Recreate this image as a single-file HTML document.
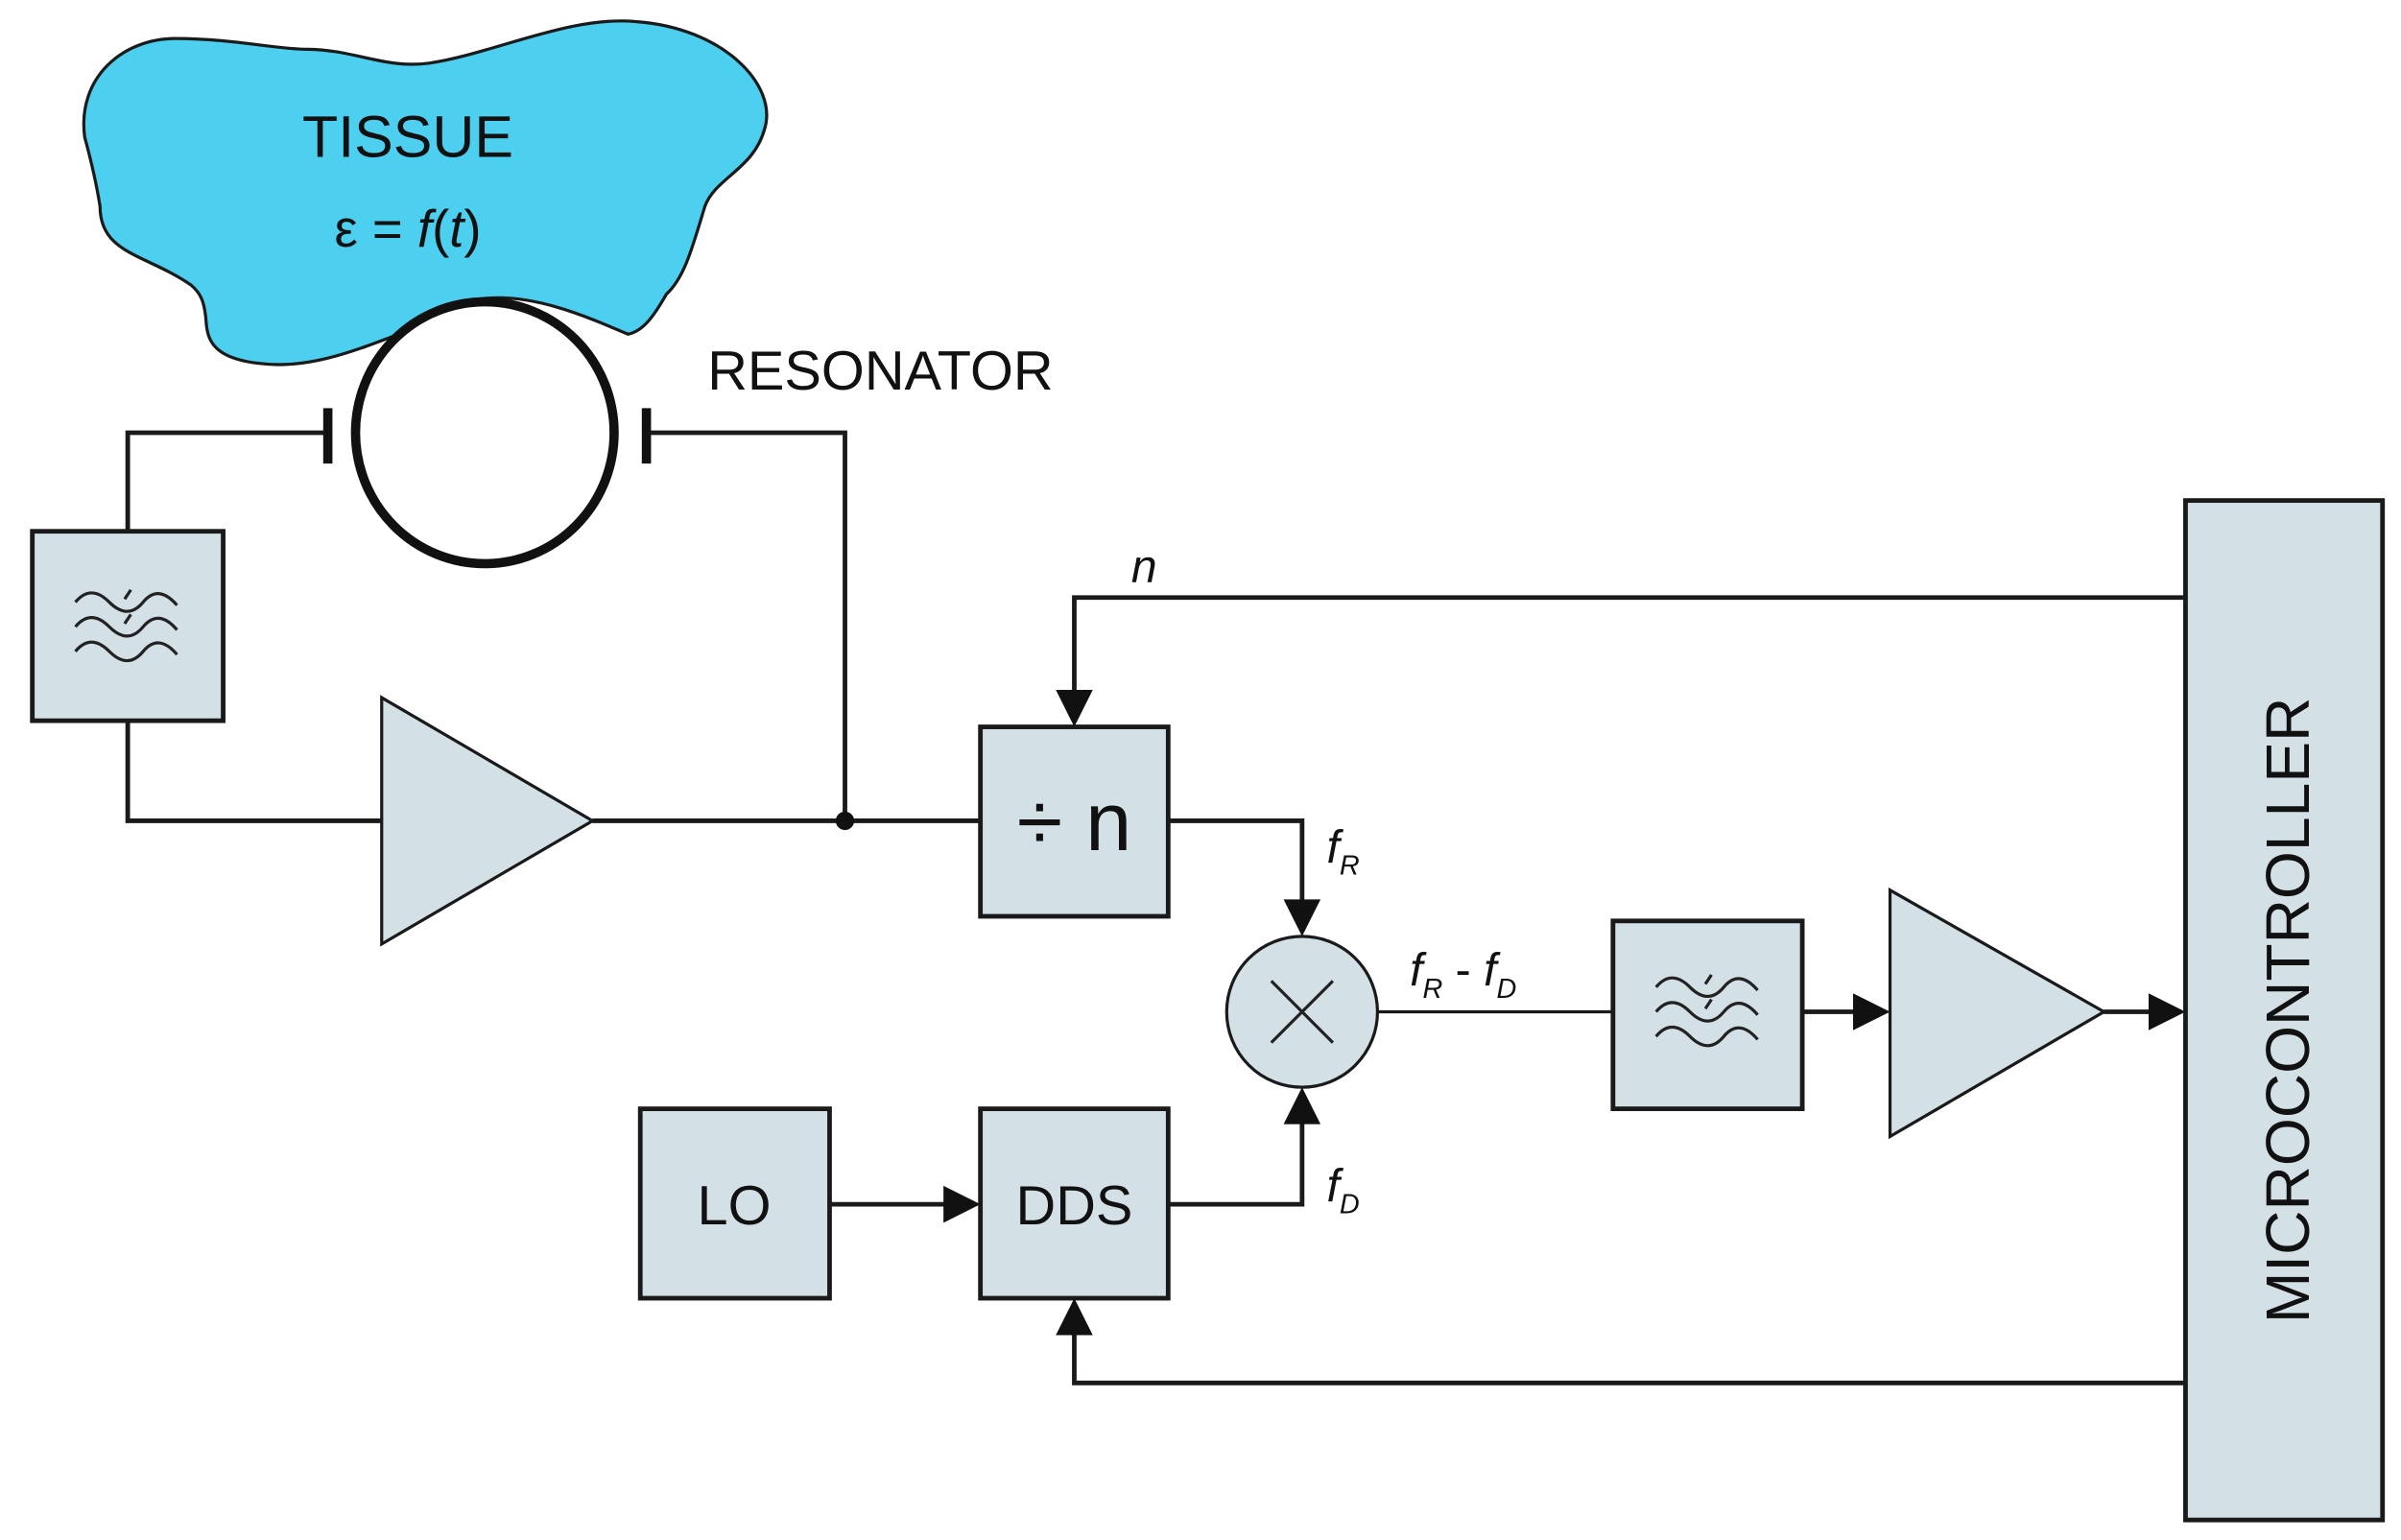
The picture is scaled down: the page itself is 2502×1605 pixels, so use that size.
<!DOCTYPE html>
<html><head><style>html,body{margin:0;padding:0;background:#fff}svg{display:block}</style></head><body>
<svg width="2502" height="1605" viewBox="0 0 1560 1000" preserveAspectRatio="none" xmlns="http://www.w3.org/2000/svg" font-family="Liberation Sans, sans-serif">
<defs>
<g id="flt" fill="none" stroke="#222" stroke-width="2">
<path d="M-34 -14 q10 -12 22 0 t22 0 t22 2"/>
<path d="M-34 2 q10 -12 22 0 t22 0 t22 2"/>
<path d="M-34 18 q10 -12 22 0 t22 0 t22 2"/>
<path d="M-2 -16 l4 -6 M-2 0 l4 -6"/>
</g>
</defs>
<style>.b{fill:#d3e0e5;stroke:#1a1a1a;stroke-width:3}.l{fill:none;stroke:#1a1a1a;stroke-width:3}.a{fill:#111}</style>
<!-- tissue -->
<path d="M55 89 C50 50 80 25 114 25 C150 25 180 32 199 32 C230 32 250 45 279 41 C320 35 370 10 413 14 C470 18 505 55 497 83 C490 110 465 115 458 134 C450 160 445 180 433 191 C425 205 418 215 408 217 C380 205 345 190 313 194 C290 197 275 210 259 217 C230 228 200 240 169 236 C140 233 135 222 134 210 C133 195 130 190 124 185 C95 165 65 165 65 134 C62 115 58 100 55 89Z" fill="#4dcfef" stroke="#1a1a1a" stroke-width="2"/>
<text x="265" y="102" font-size="38" text-anchor="middle" fill="#111">TISSUE</text>
<text x="265" y="160" font-size="34" text-anchor="middle" fill="#111">ε = <tspan font-style="italic">f</tspan>(<tspan font-style="italic">t</tspan>)</text>
<text x="572" y="253" font-size="36" text-anchor="middle" fill="#111">RESONATOR</text>
<!-- resonator -->
<ellipse cx="315" cy="281" rx="84" ry="85" fill="#fff" stroke="#111" stroke-width="6"/>
<path d="M213 265 V301 M420 265 V301" stroke="#111" stroke-width="6"/>
<path class="l" d="M211 281 H83 V345"/>
<path class="l" d="M422 281 H549 V533"/>
<!-- filter1 -->
<rect class="b" x="21" y="345" width="124" height="123"/>
<use href="#flt" x="83" y="405"/>
<path class="l" d="M83 468 V533 H248"/>
<polygon class="b" points="248,453 248,613 385,533" style="stroke-width:2"/>
<path class="l" d="M385 533 H637"/>
<circle cx="549" cy="533" r="6" fill="#111"/>
<!-- div n -->
<rect class="b" x="637" y="472" width="122" height="123"/>
<text x="698" y="552" font-size="54" text-anchor="middle" fill="#111">÷ n</text>
<path class="l" d="M1420 388 H698 V450"/>
<polygon class="a" points="686,448 710,448 698,472"/>
<text x="735" y="378" font-size="30" font-style="italic" fill="#111">n</text>
<path class="l" d="M759 533 H846 V586"/>
<polygon class="a" points="834,584 858,584 846,608"/>
<text x="862" y="560" font-size="30" font-style="italic" fill="#111">f<tspan font-size="18" dy="8">R</tspan></text>
<!-- mixer -->
<circle cx="846" cy="657" r="49" fill="#d3e0e5" stroke="#1a1a1a" stroke-width="2"/>
<path d="M826 637 L866 677 M866 637 L826 677" stroke="#222" stroke-width="2"/>
<!-- LO / DDS -->
<rect class="b" x="416" y="720" width="123" height="123"/>
<text x="477" y="795" font-size="36" text-anchor="middle" fill="#111">LO</text>
<rect class="b" x="637" y="720" width="122" height="123"/>
<text x="698" y="795" font-size="36" text-anchor="middle" fill="#111">DDS</text>
<path class="l" d="M539 782 H615"/>
<polygon class="a" points="613,770 613,794 637,782"/>
<path class="l" d="M759 782 H846 V728"/>
<polygon class="a" points="834,730 858,730 846,706"/>
<text x="862" y="780" font-size="30" font-style="italic" fill="#111">f<tspan font-size="18" dy="8">D</tspan></text>
<path class="l" d="M1420 898 H698 V865"/>
<polygon class="a" points="686,867 710,867 698,843"/>
<!-- right chain -->
<path d="M895 657 H1048" stroke="#1a1a1a" stroke-width="2"/>
<text x="916" y="640" font-size="30" font-style="italic" fill="#111">f<tspan font-size="18" dy="8">R</tspan><tspan dy="-8" font-style="normal"> - </tspan>f<tspan font-size="18" dy="8">D</tspan></text>
<rect class="b" x="1048" y="598" width="123" height="122"/>
<use href="#flt" x="1110" y="655"/>
<path class="l" d="M1171 657 H1206"/>
<polygon class="a" points="1204,645 1204,669 1228,657"/>
<polygon class="b" points="1228,578 1228,738 1367,657" style="stroke-width:2"/>
<path class="l" d="M1367 657 H1398"/>
<polygon class="a" points="1396,645 1396,669 1420,657"/>
<rect class="b" x="1420" y="325" width="128" height="662"/>
<text transform="translate(1500,656) rotate(-90)" font-size="40" text-anchor="middle" fill="#111">MICROCONTROLLER</text>
</svg>
</body></html>
